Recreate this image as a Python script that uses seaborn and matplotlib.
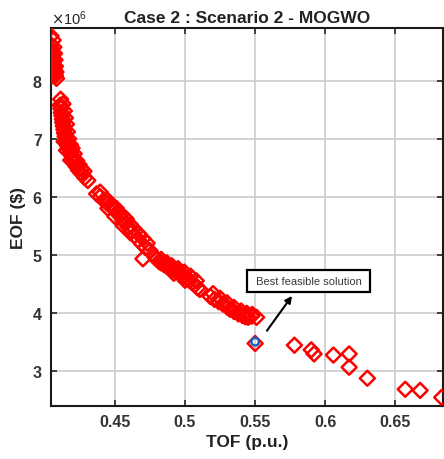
import numpy as np
import pandas as pd
import matplotlib
matplotlib.use("Agg")
import matplotlib.pyplot as plt
import matplotlib.ticker as mticker
import seaborn as sns

# ---- data (EOF in millions of $) ----
tof = [
    0.4045, 0.4045, 0.4048, 0.4050, 0.4052, 0.4055, 0.4058, 0.4060, 0.4063, 0.4066,
    0.4069, 0.4072, 0.4076, 0.4084,
    0.4060, 0.4065, 0.4070, 0.4073, 0.4076, 0.4080, 0.4056,
    0.4113, 0.4110, 0.4115, 0.4118, 0.4122, 0.4125, 0.4128, 0.4132, 0.4136, 0.4140,
    0.4145, 0.4150, 0.4158, 0.4165, 0.4175, 0.4185, 0.4195, 0.4205, 0.4215, 0.4225,
    0.4240, 0.4255, 0.4270, 0.4285, 0.4307,
    0.4130, 0.4140, 0.4148, 0.4155, 0.4162, 0.4170, 0.4182, 0.4195, 0.4210, 0.4228,
    0.4245, 0.4262, 0.4280, 0.4138, 0.4155, 0.4185,
    0.4370, 0.4395, 0.4420, 0.4445, 0.4464, 0.4490, 0.4515, 0.4535, 0.4557, 0.4575,
    0.4595, 0.4615, 0.4640, 0.4665, 0.4690, 0.4720, 0.4750, 0.4700,
    0.4395, 0.4440, 0.4480, 0.4510, 0.4545, 0.4580, 0.4610, 0.4635, 0.4670, 0.4700,
    0.4730, 0.4450, 0.4500, 0.4560, 0.4610,
    0.4785, 0.4800, 0.4815, 0.4830, 0.4850, 0.4870, 0.4890, 0.4910, 0.4930, 0.4950,
    0.4970, 0.4990, 0.5010, 0.5030, 0.5050, 0.5070, 0.5090, 0.5106,
    0.4830, 0.4870, 0.4905, 0.4950, 0.4995, 0.5040, 0.5080, 0.4920, 0.5000,
    0.5180, 0.5210, 0.5240, 0.5270, 0.5300, 0.5320, 0.5350, 0.5380, 0.5410, 0.5430,
    0.5450, 0.5475, 0.5510,
    0.5200, 0.5250, 0.5300, 0.5350, 0.5400, 0.5440, 0.5480,
    0.5500,
    0.5780, 0.5900, 0.5920, 0.6058, 0.6170, 0.6170, 0.6300, 0.6570, 0.6676, 0.6830,
]
eof_m = [
    8.77, 8.62, 8.55, 8.49, 8.44, 8.40, 8.35, 8.30, 8.26, 8.21,
    8.17, 8.13, 8.09, 8.04,
    8.70, 8.58, 8.47, 8.36, 8.25, 8.15, 8.09,
    7.68, 7.58, 7.52, 7.45, 7.40, 7.34, 7.28, 7.22, 7.16, 7.10,
    7.04, 6.98, 6.92, 6.87, 6.82, 6.76, 6.70, 6.64, 6.58, 6.52,
    6.46, 6.42, 6.38, 6.33, 6.28,
    7.60, 7.48, 7.36, 7.25, 7.12, 7.00, 6.90, 6.84, 6.74, 6.62,
    6.55, 6.48, 6.44, 6.95, 6.80, 6.63,
    6.05, 6.00, 5.94, 5.89, 5.85, 5.79, 5.73, 5.67, 5.60, 5.54,
    5.48, 5.42, 5.33, 5.26, 5.19, 5.12, 5.07, 4.93,
    6.08, 5.96, 5.86, 5.80, 5.70, 5.62, 5.52, 5.45, 5.36, 5.28,
    5.20, 5.80, 5.66, 5.50, 5.38,
    4.96, 4.92, 4.88, 4.86, 4.83, 4.80, 4.78, 4.75, 4.72, 4.70,
    4.67, 4.63, 4.60, 4.56, 4.52, 4.48, 4.43, 4.40,
    4.92, 4.86, 4.81, 4.76, 4.70, 4.63, 4.55, 4.68, 4.56,
    4.28, 4.23, 4.19, 4.15, 4.10, 4.06, 4.02, 3.98, 3.95, 3.93,
    3.92, 3.94, 3.92,
    4.33, 4.25, 4.17, 4.09, 4.03, 3.99, 3.97,
    3.47,
    3.44, 3.36, 3.29, 3.27, 3.29, 3.06, 2.87, 2.68, 2.66, 2.54,
]
best_tof = [0.550]
best_eof_m = [3.50]
x_ticks = [0.45, 0.5, 0.55, 0.6, 0.65]
x_ticklabels = ["0.45", "0.5", "0.55", "0.6", "0.65"]
y_ticks_m = [3, 4, 5, 6, 7, 8]

df = pd.DataFrame({"TOF": tof, "EOF": np.array(eof_m) * 1e6})
best = pd.DataFrame({"TOF": best_tof, "EOF": np.array(best_eof_m) * 1e6})

sns.set_theme(style="white")
plt.rcParams["font.family"] = ["Liberation Sans", "DejaVu Sans"]

fig = plt.figure(figsize=(4.44, 4.60), dpi=100)
ax = fig.add_axes([0.115, 0.115, 0.883, 0.822])

ax.grid(True, color="#c8c8c8", linewidth=1.1, zorder=0)
ax.set_axisbelow(True)

sns.scatterplot(data=df, x="TOF", y="EOF", ax=ax, marker="D", s=58,
                facecolors="none", edgecolors="#ff0000", linewidth=1.8,
                zorder=3, legend=False)
sns.scatterplot(data=best, x="TOF", y="EOF", ax=ax, marker="o", s=30,
                facecolors="none", edgecolors="#1f5fbf", linewidth=1.8,
                zorder=4, legend=False)

ax.set_xlim(0.4045, 0.684)
ax.set_ylim(2.39e6, 8.91e6)
ax.set_xticks(x_ticks)
ax.set_xticklabels(x_ticklabels)
ax.set_yticks(np.array(y_ticks_m) * 1e6)
fmt = mticker.ScalarFormatter(useMathText=True)
fmt.set_powerlimits((0, 0))
ax.yaxis.set_major_formatter(fmt)
ax.yaxis.get_offset_text().set_fontsize(10.5)
ax.yaxis.get_offset_text().set_color("#333333")

for lab in ax.get_xticklabels() + ax.get_yticklabels():
    lab.set_fontweight("bold")
    lab.set_fontsize(11.5)
    lab.set_color("#333333")

ax.tick_params(direction="in", length=4, width=1.2, top=True, right=True,
               bottom=True, left=True, pad=6, colors="#262626")
for lab in ax.get_xticklabels() + ax.get_yticklabels():
    lab.set_color("#333333")
for sp in ax.spines.values():
    sp.set_color("#1a1a1a")
    sp.set_linewidth(1.5)

ax.set_xlabel("TOF (p.u.)", fontsize=12.5, fontweight="bold", labelpad=3,
              color="#222222")
ax.set_ylabel("EOF ($)", fontsize=12.5, fontweight="bold", labelpad=4,
              color="#222222")
ax.set_title("Case 2 : Scenario 2 - MOGWO", fontsize=12.5, fontweight="bold",
             pad=4, color="#222222")

ax.annotate("", xy=(0.5763, 4.29e6), xytext=(0.5584, 3.69e6),
            arrowprops=dict(arrowstyle="-|>", color="black", lw=1.5,
                            mutation_scale=10, shrinkA=0, shrinkB=0), zorder=5)
ax.text(0.5882, 4.547e6, " Best feasible solution ", fontsize=8,
        ha="center", va="center", color="#3a3a3a", zorder=6,
        bbox=dict(boxstyle="square,pad=0.5", facecolor="white",
                  edgecolor="black", linewidth=1.6))

fig.savefig("out.png", dpi=100)
